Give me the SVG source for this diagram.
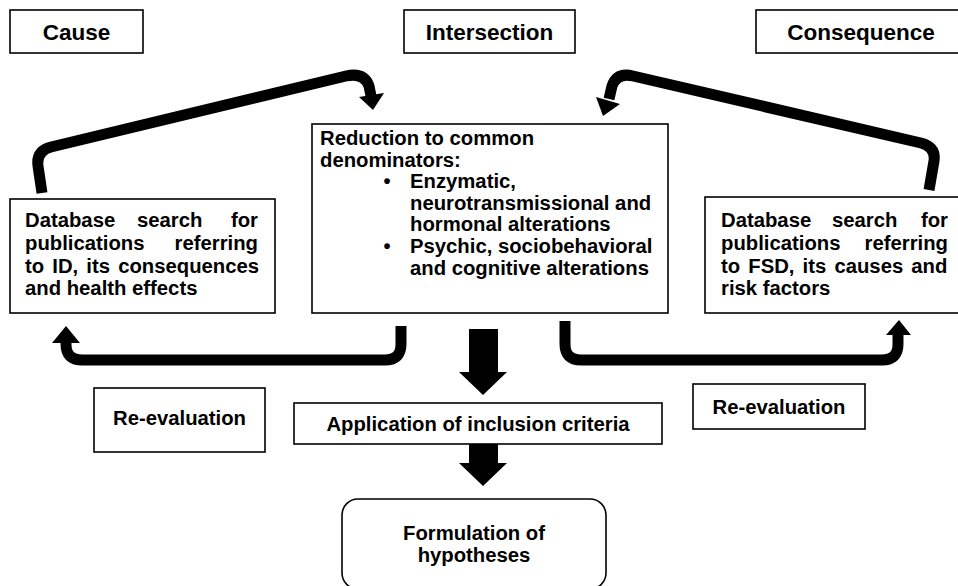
<svg xmlns="http://www.w3.org/2000/svg" width="958" height="586" viewBox="0 0 958 586">
<style>
  .box { fill: #fff; stroke: #000; stroke-width: 1.6; }
  .t { font-family: "Liberation Sans", Arial, sans-serif; font-weight: bold; fill: #000; }
  .title { font-size: 22.5px; text-anchor: middle; }
  .body { font-size: 20.3px; }
  .mid { text-anchor: middle; }
  .end { text-anchor: end; }
  .conn { fill: none; stroke: #000; stroke-width: 11; stroke-linejoin: round; }
  .head { fill: #000; stroke: none; }
</style>
<rect width="958" height="586" fill="#fff"/>

<g id="connectors">
  <!-- top left: cause -> intersection -->
  <path class="conn" d="M 42,193 L 38,166 Q 36,151 51,147 L 346,76 Q 364,72 369,86 L 371,96"/>
  <polygon class="head" points="359,97 384,93 373,110"/>
  <!-- top right: consequence -> intersection -->
  <path class="conn" d="M 929,190 L 934,161 Q 936,147 921,143 L 633,76 Q 617,72 612,86 L 609,99"/>
  <polygon class="head" points="596,97 620,104 603,116"/>
  <!-- bottom left U -->
  <path class="conn" d="M 401,326 V 344 Q 401,360 385,360 H 82 Q 66,360 66,344 V 341"/>
  <polygon class="head" points="52,343 80,343 66,326"/>
  <!-- bottom right U -->
  <path class="conn" d="M 565,321 V 344 Q 565,360 581,360 H 882 Q 898,360 898,344 V 333"/>
  <polygon class="head" points="886,335 911,335 899,320"/>
  <!-- block arrows -->
  <polygon class="head" points="469,329 498,329 498,372 507,372 483,395 459,372 469,372"/>
  <polygon class="head" points="469,442 498,442 498,463 507,463 483,486 459,463 469,463"/>
</g>

<g id="cause">
  <rect class="box" x="10" y="10" width="133" height="43"/>
  <text class="t title" x="76.5" y="39.5">Cause</text>
</g>

<g id="intersection">
  <rect class="box" x="404" y="10" width="171" height="43"/>
  <text class="t title" x="489.5" y="39.5">Intersection</text>
</g>

<g id="consequence">
  <rect class="box" x="756" y="10" width="212" height="43"/>
  <text class="t title" x="861" y="39.5">Consequence</text>
</g>

<g id="search-id">
  <rect class="box" x="10" y="199" width="265" height="114"/>
  <text class="t body" y="227"><tspan x="25">Database</tspan><tspan x="137">search</tspan><tspan x="258" class="end">for</tspan></text>
  <text class="t body" y="250"><tspan x="25">publications</tspan><tspan x="258" class="end">referring</tspan></text>
  <text class="t body" y="272.5" x="25" word-spacing="2.5">to ID, its consequences</text>
  <text class="t body" y="295" x="25">and health effects</text>
</g>

<g id="reduction">
  <rect class="box" x="312" y="124" width="356" height="189"/>
  <text class="t body" x="320" y="145">Reduction to common</text>
  <text class="t body" x="320" y="166.6">denominators:</text>
  <text class="t body mid" x="387" y="188.2">•</text>
  <text class="t body" x="410" y="188.2">Enzymatic,</text>
  <text class="t body" x="410" y="209.8">neurotransmissional and</text>
  <text class="t body" x="410" y="231.4">hormonal alterations</text>
  <text class="t body mid" x="387" y="253">•</text>
  <text class="t body" x="410" y="253">Psychic, sociobehavioral</text>
  <text class="t body" x="410" y="274.6">and cognitive alterations</text>
</g>

<g id="search-fsd">
  <rect class="box" x="705" y="197" width="262" height="116"/>
  <text class="t body" y="227"><tspan x="721">Database</tspan><tspan x="832">search</tspan><tspan x="948" class="end">for</tspan></text>
  <text class="t body" y="250"><tspan x="721">publications</tspan><tspan x="948" class="end">referring</tspan></text>
  <text class="t body" y="272.5" x="721" word-spacing="2.5">to FSD, its causes and</text>
  <text class="t body" y="295" x="721">risk factors</text>
</g>

<g id="reeval-left">
  <rect class="box" x="94" y="388" width="171" height="64"/>
  <text class="t body mid" x="179.5" y="425">Re-evaluation</text>
</g>

<g id="reeval-right">
  <rect class="box" x="693" y="384" width="172" height="45"/>
  <text class="t body mid" x="779" y="414">Re-evaluation</text>
</g>

<g id="inclusion">
  <rect class="box" x="294" y="403" width="368" height="41"/>
  <text class="t body mid" x="478" y="430.5">Application of inclusion criteria</text>
</g>

<g id="hypotheses">
  <rect class="box" x="342" y="499" width="264" height="90" rx="16" ry="16"/>
  <text class="t body mid" x="474" y="540">Formulation of</text>
  <text class="t body mid" x="474" y="562">hypotheses</text>
</g>
</svg>
